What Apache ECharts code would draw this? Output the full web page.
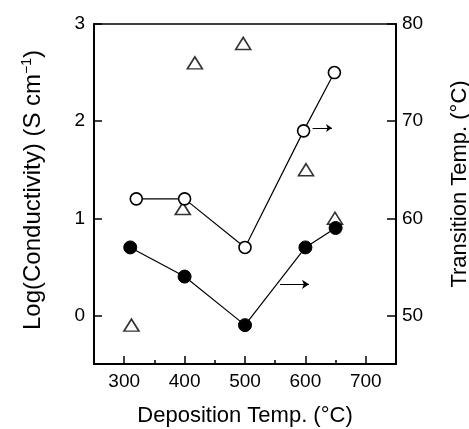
<!DOCTYPE html>
<html>
<head>
<meta charset="utf-8">
<script src="https://cdn.jsdelivr.net/npm/echarts@6/dist/echarts.min.js"></script>
<style>html,body{margin:0;padding:0;background:#fff;}#c{width:469px;height:429px;}</style>
</head>
<body>
<div id="c"></div>
<script>
// Filled circles (Transition Temp., right axis)
const filledX = [310, 400, 500, 600, 650];
const filledY = [57, 54, 49, 57, 59];
// Open circles (Transition Temp., right axis)
const openX = [320, 400, 500, 597, 648];
const openY = [62, 62, 57, 69, 75];
// Triangles (Log conductivity, left axis)
const triX = [312, 417, 497, 397, 601, 649];
const triY = [-0.1, 2.6, 2.8, 1.1, 1.5, 1.0];
// Arrow annotations (right-axis coordinates)
const arrowOpen = [[612, 69.3], [644, 69.3]];
const arrowFilled = [[558, 53.2], [606, 53.2]];
// Tick labels
const xTicks = [300, 400, 500, 600, 700];
const xMinor = [350, 450, 550, 650];
const leftTicks = [0, 1, 2, 3];
const rightTicks = [50, 60, 70, 80];

const FONT = 'Liberation Sans';
const pair = (xs, ys) => xs.map((x, i) => [x, ys[i]]);

const chart = echarts.init(document.getElementById('c'), null, {renderer: 'canvas'});
chart.setOption({
  animation: false,
  backgroundColor: '#fff',
  grid: {left: 94, right: 73, top: 24, bottom: 65, containLabel: false, outerBoundsMode: 'none',
    show: true, borderColor: '#000', borderWidth: 1.5, backgroundColor: 'transparent'},
  xAxis: [{
    type: 'value', min: 250, max: 750,
    name: 'Deposition Temp. (°C)', nameLocation: 'middle', nameGap: 41,
    nameTextStyle: {fontFamily: FONT, fontSize: 22, color: '#000'},
    axisLine: {show: true, onZero: false, lineStyle: {color: '#000', width: 2}},
    axisTick: {show: true, inside: true, length: 8, lineStyle: {color: '#000', width: 1.5}, customValues: xTicks},
    axisLabel: {show: true, customValues: xTicks, fontFamily: FONT, fontSize: 19, color: '#000', margin: 8},
    splitLine: {show: false}
  }, {
    type: 'value', min: 250, max: 750, position: 'bottom',
    axisLine: {show: false, onZero: false},
    axisTick: {show: true, inside: true, length: 4, lineStyle: {color: '#000', width: 1.5}, customValues: xMinor},
    axisLabel: {show: false},
    splitLine: {show: false}
  }],
  yAxis: [{
    type: 'value', min: -0.5, max: 3, position: 'left',
    name: 'Log(Conductivity) (S cm{sup|−1})', nameLocation: 'middle', nameGap: 48, nameRotate: 90,
    nameTextStyle: {fontFamily: FONT, fontSize: 24, color: '#000', padding: [0, 0, 0, 8],
      rich: {sup: {fontFamily: FONT, fontSize: 14, color: '#000', padding: [0, 0, 12, 0]}}},
    axisLine: {show: true, onZero: false, lineStyle: {color: '#000', width: 2}},
    axisTick: {show: true, inside: true, length: 8, lineStyle: {color: '#000', width: 1.5}, customValues: leftTicks},
    axisLabel: {customValues: leftTicks, fontFamily: FONT, fontSize: 19, color: '#000', margin: 9},
    splitLine: {show: false}
  }, {
    type: 'value', min: 45, max: 80, position: 'right',
    name: 'Transition Temp. (°C)', nameLocation: 'middle', nameGap: 53, nameRotate: 90,
    nameTextStyle: {fontFamily: FONT, fontSize: 22, color: '#000', padding: [0, 0, 0, 20]},
    axisLine: {show: true, onZero: false, lineStyle: {color: '#000', width: 2}},
    axisTick: {show: true, inside: true, length: 9, lineStyle: {color: '#000', width: 1.5}, customValues: rightTicks},
    axisLabel: {customValues: rightTicks, fontFamily: FONT, fontSize: 19, color: '#000', margin: 6},
    splitLine: {show: false}
  }],
  series: [{
    type: 'line', yAxisIndex: 1, data: pair(filledX, filledY),
    symbol: 'circle', symbolSize: 13,
    itemStyle: {color: '#000', borderColor: '#000'},
    lineStyle: {color: '#000', width: 1.2},
    markLine: {silent: true, symbol: ['none', 'arrow'], symbolSize: 7,
      lineStyle: {color: '#000', width: 1, type: 'solid'}, label: {show: false},
      data: [[{coord: arrowFilled[0]}, {coord: arrowFilled[1]}]]}
  }, {
    type: 'line', yAxisIndex: 1, data: pair(openX, openY),
    symbol: 'circle', symbolSize: 12,
    itemStyle: {color: '#fff', borderColor: '#000', borderWidth: 1.6},
    lineStyle: {color: '#000', width: 1.2},
    markLine: {silent: true, symbol: ['none', 'arrow'], symbolSize: 6,
      lineStyle: {color: '#000', width: 1, type: 'solid'}, label: {show: false},
      data: [[{coord: arrowOpen[0]}, {coord: arrowOpen[1]}]]}
  }, {
    type: 'scatter', yAxisIndex: 0, data: pair(triX, triY),
    symbol: 'triangle', symbolSize: [15, 12],
    itemStyle: {color: 'transparent', borderColor: '#000', borderWidth: 1.6}
  }]
});
</script>
</body>
</html>
